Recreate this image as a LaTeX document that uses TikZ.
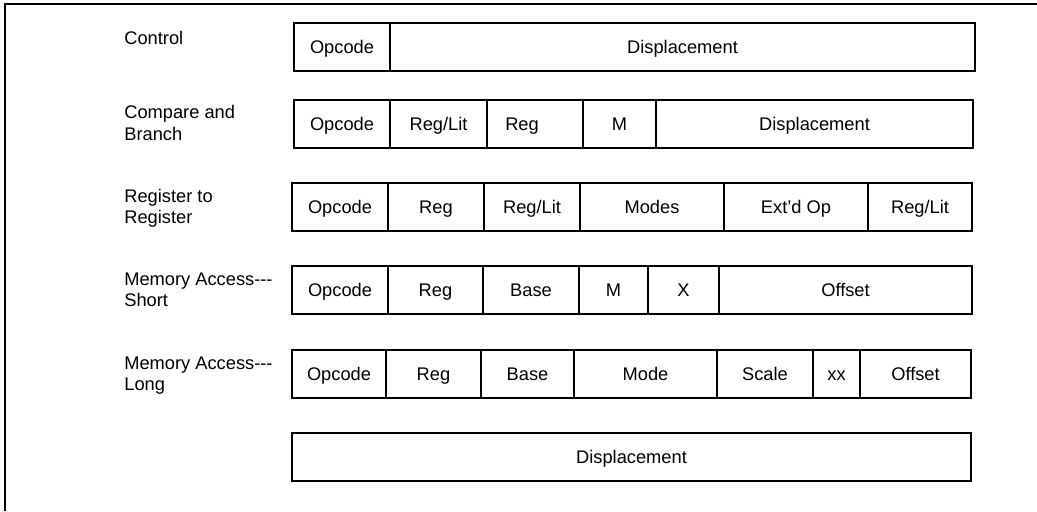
\documentclass[tikz,border=0pt]{standalone}
\usepackage{fontspec}
\setmainfont{Liberation Sans}
\usetikzlibrary{positioning}

\tikzset{
  field/.style={draw, line width=1.6pt, outer sep=0pt, minimum height=0.96cm,
    minimum width=#1*0.02cm, inner sep=0pt, text height=7.45pt, text depth=0pt,
    font=\fontsize{10.4}{12}\selectfont},
  rowlabel/.style={anchor=base west, align=left, inner sep=0pt,
    font=\fontsize{10.4}{12.2}\selectfont},
}
\newcommand{\dashes}{-\kern0pt-\kern0pt-}

\begin{document}
\begin{tikzpicture}[x=0.02cm, y=-0.02cm]
\useasboundingbox (0,0) rectangle (1037,511);
\draw[line width=1.6pt] (5,511) -- (5,4) -- (1037,4);

\node[rowlabel] (ctl) at (124,44) {Control};
\node[field=96, anchor=north west] (ctlA) at (294,23) {Opcode};
\node[field=585, right=0pt of ctlA] (ctlB) {Displacement};

\node[rowlabel] (cmp) at (124,140) {Compare and\\Branch};
\node[field=96, anchor=north west] (cmpA) at (294,100) {Opcode};
\node[field=97, right=0pt of cmpA] (cmpB) {Reg/Lit};
\node[field=96, right=0pt of cmpB] (cmpC) {\hspace*{-0.52cm}Reg};
\node[field=73, right=0pt of cmpC] (cmpD) {M};
\node[field=317, right=0pt of cmpD] (cmpE) {Displacement};

\node[rowlabel] (reg) at (124,223.5) {Register to\\Register};
\node[field=96, anchor=north west] (regA) at (292,183) {Opcode};
\node[field=96, right=0pt of regA] (regB) {Reg};
\node[field=96, right=0pt of regB] (regC) {Reg/Lit};
\node[field=144, right=0pt of regC] (regD) {Modes};
\node[field=144, right=0pt of regD] (regE) {Ext’d Op};
\node[field=104, right=0pt of regE] (regF) {Reg/Lit};

\node[rowlabel] (mas) at (124,306.5) {Memory Access\dashes\\Short};
\node[field=96, anchor=north west] (masA) at (292,266) {Opcode};
\node[field=95, right=0pt of masA] (masB) {Reg};
\node[field=96, right=0pt of masB] (masC) {Base};
\node[field=69, right=0pt of masC] (masD) {M};
\node[field=71, right=0pt of masD] (masE) {X};
\node[field=253, right=0pt of masE] (masF) {Offset};

\node[rowlabel] (mal) at (124,390.5) {Memory Access\dashes\\Long};
\node[field=94, anchor=north west] (malA) at (292,350) {Opcode};
\node[field=95, right=0pt of malA] (malB) {Reg};
\node[field=93, right=0pt of malB] (malC) {Base};
\node[field=143, right=0pt of malC] (malD) {Mode};
\node[field=96, right=0pt of malD] (malE) {Scale};
\node[field=47, right=0pt of malE] (malF) {xx};
\node[field=111, right=0pt of malF] (malG) {Offset};

\node[field=679, anchor=north west] (disp) at (292,433) {Displacement};
\end{tikzpicture}
\end{document}
